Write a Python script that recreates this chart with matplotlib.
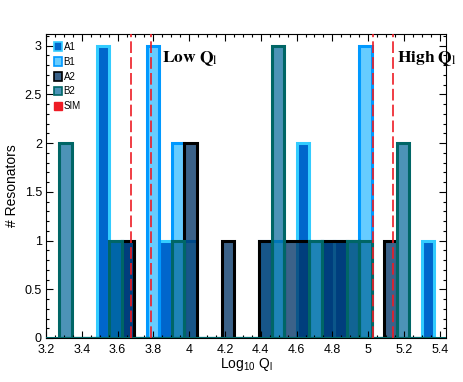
import numpy as np
import matplotlib.pyplot as plt
from matplotlib.patches import Patch
from matplotlib.ticker import MultipleLocator

plt.rcParams['font.family'] = ['Liberation Sans', 'DejaVu Sans']
plt.rcParams['mathtext.fontset'] = 'custom'
plt.rcParams['mathtext.rm'] = 'Liberation Sans'
plt.rcParams['mathtext.it'] = 'Liberation Sans:italic'
plt.rcParams['mathtext.bf'] = 'Liberation Sans:bold'

# shared histogram bins (log10 Ql)
bin_centers = [3.309, 3.379, 3.449, 3.518, 3.588, 3.658, 3.728, 3.798, 3.868, 3.937,
               4.007, 4.077, 4.147, 4.217, 4.287, 4.356, 4.426, 4.496, 4.566, 4.636,
               4.706, 4.775, 4.845, 4.915, 4.985, 5.055, 5.125, 5.194, 5.264, 5.334]
bin_width = 0.0698

a1_counts = [0, 0, 0, 3, 1, 1, 0, 0, 1, 0, 0, 0, 0, 0, 0,
             0, 0, 0, 0, 2, 0, 1, 1, 0, 0, 0, 0, 0, 0, 1]
b1_counts = [0, 0, 0, 0, 0, 0, 0, 3, 0, 2, 1, 0, 0, 0, 0,
             0, 1, 1, 0, 0, 1, 0, 0, 0, 3, 0, 0, 0, 0, 0]
a2_counts = [0, 0, 0, 0, 0, 1, 0, 0, 0, 0, 2, 0, 0, 1, 0,
             0, 1, 0, 1, 1, 0, 1, 1, 1, 0, 0, 1, 0, 0, 0]
b2_counts = [2, 0, 0, 0, 1, 0, 0, 0, 0, 1, 0, 0, 0, 0, 0,
             0, 0, 3, 0, 0, 1, 0, 0, 1, 1, 0, 0, 2, 0, 0]

# simulated Ql values (dashed lines)
sim_values = [3.675, 3.787, 5.025, 5.139]

xtick_values = [3.2, 3.4, 3.6, 3.8, 4.0, 4.2, 4.4, 4.6, 4.8, 5.0, 5.2, 5.4]
xtick_labels = ['3.2', '3.4', '3.6', '3.8', '4', '4.2', '4.4', '4.6', '4.8', '5', '5.2', '5.4']
ytick_values = [0, 0.5, 1, 1.5, 2, 2.5, 3]
ytick_labels = ['0', '0.5', '1', '1.5', '2', '2.5', '3']

a1_face, a1_edge = '#0066CC', '#33CCFF'
b1_face, b1_edge = '#66CCFF', '#0099FF'
a2_face, a2_edge = (0.0, 0.2, 0.4, 0.77), 'black'
b2_face, b2_edge = (0.0, 0.4, 0.6, 0.70), '#006666'
sim_color = '#EE1C25'
lw = 2.2

fig = plt.figure(figsize=(4.63, 3.82), dpi=100)
ax = fig.add_axes([46 / 463, 44 / 382, 400 / 463, 304 / 382])

ax.bar(bin_centers, a1_counts, width=bin_width, color=a1_face, edgecolor=a1_edge, linewidth=lw)
ax.bar(bin_centers, b1_counts, width=bin_width, color=b1_face, edgecolor=b1_edge, linewidth=lw)

# A2: filled bars, then one outline so adjacent bars merge into a block
ax.bar(bin_centers, a2_counts, width=bin_width, color=a2_face, linewidth=0)
bin_edges = np.append(np.array(bin_centers) - bin_width / 2, bin_centers[-1] + bin_width / 2)
ax.stairs(a2_counts, bin_edges, color=a2_edge, linewidth=lw, baseline=0)

ax.bar(bin_centers, b2_counts, width=bin_width, color=b2_face, edgecolor=b2_edge, linewidth=lw)

# bar baseline
ax.axhline(0, color=b2_edge, lw=2.2, zorder=4)

for v in sim_values:
    ax.axvline(v, color=sim_color, lw=1.2, dashes=(7, 2.5), zorder=5)

handles = [
    Patch(facecolor=a1_face, edgecolor=a1_edge, linewidth=1.2, label='A1'),
    Patch(facecolor=b1_face, edgecolor=b1_edge, linewidth=1.2, label='B1'),
    Patch(facecolor=a2_face, edgecolor=a2_edge, linewidth=1.2, label='A2'),
    Patch(facecolor=b2_face, edgecolor=b2_edge, linewidth=1.2, label='B2'),
    Patch(facecolor=sim_color, edgecolor=sim_color, label='SIM'),
]

ax.text(3.848, 2.83, r'$\mathbf{Low\ Q}_\mathrm{l}$', math_fontfamily='stix',
        fontsize=12.5, ha='left', va='baseline')
ax.text(5.161, 2.83, r'$\mathbf{High\ Q}_\mathrm{l}$', math_fontfamily='stix',
        fontsize=12.5, ha='left', va='baseline')

ax.set_xlim(3.2, 5.435)
ax.set_ylim(0, 3.12)
ax.set_xticks(xtick_values)
ax.set_xticklabels(xtick_labels)
ax.set_yticks(ytick_values)
ax.set_yticklabels(ytick_labels)
ax.xaxis.set_minor_locator(MultipleLocator(0.05))
ax.yaxis.set_minor_locator(MultipleLocator(0.1))
ax.tick_params(which='both', direction='in', top=True, right=True, labelsize=9, width=0.8)
ax.tick_params(which='major', length=5)
ax.tick_params(which='minor', length=2.5)
ax.tick_params(axis='x', which='major', pad=4.5)
ax.tick_params(axis='y', which='major', pad=3)

ax.set_xlabel(r'Log$_{10}$ Q$_\mathrm{l}$', fontsize=10, labelpad=0)
ax.set_ylabel('# Resonators', fontsize=10, labelpad=4)

ax.legend(handles=handles, loc='upper left', bbox_to_anchor=(0.0, 1.0), frameon=False,
          fontsize=7, handlelength=0.8, handleheight=1.0, handletextpad=0.2,
          labelspacing=0.5, borderaxespad=0.4)

fig.savefig('out.png', dpi=100)
